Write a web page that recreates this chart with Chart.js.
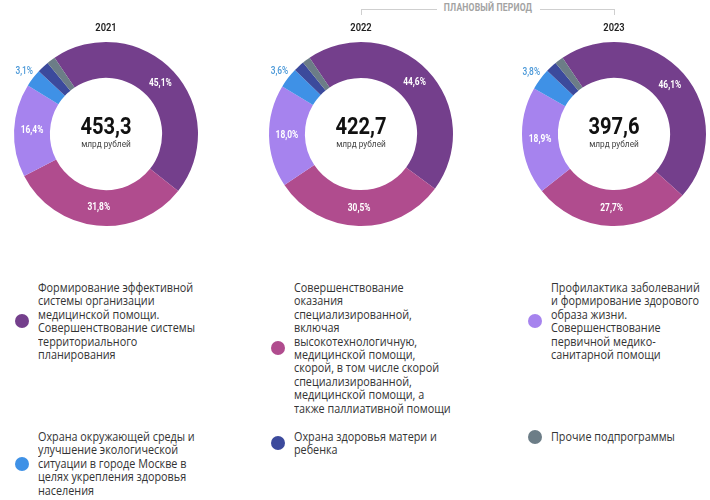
<!DOCTYPE html>
<html lang="ru">
<head>
<meta charset="utf-8">
<title>Подпрограммы здравоохранения</title>
<script src="https://cdn.jsdelivr.net/npm/chart.js@4.4.0/dist/chart.umd.min.js"></script>
<style>
  html, body { margin: 0; padding: 0; background: #fff; }
  body { width: 710px; height: 500px; position: relative; overflow: hidden; font-family: "Open Sans", sans-serif; }
  .donut { position: absolute; top: 0; width: 212px; height: 240px; }
  .period-line { position: absolute; top: 9px; height: 0; border-top: 1px solid #cfcfcf; }
  .period-tick { position: absolute; top: 9px; width: 0; height: 6px; border-left: 1px solid #cfcfcf; }
  .period-text { position: absolute; top: 2px; left: 400px; width: 176px; text-align: center;
    font: bold 10px Roboto, sans-serif; color: #a3a3a3; transform: scaleX(0.86); letter-spacing: 0.2px; }
  .legend-item { position: absolute; display: flex; align-items: center; }
  .legend-dot { width: 14px; height: 14px; border-radius: 50%; flex: none; margin-right: 9px; }
  .legend-text { font-size: 12px; line-height: 13.4px; color: #333; white-space: pre;
    transform: scaleX(0.9); transform-origin: left center; }
</style>
</head>
<body>
<div class="period-line" style="left:361px;width:76px"></div>
<div class="period-line" style="left:540px;width:74px"></div>
<div class="period-tick" style="left:361px"></div>
<div class="period-tick" style="left:614px"></div>
<div class="period-text">ПЛАНОВЫЙ ПЕРИОД</div>

<canvas id="chart2021" class="donut" width="212" height="240" style="left:0px"></canvas>
<canvas id="chart2022" class="donut" width="212" height="240" style="left:255px"></canvas>
<canvas id="chart2023" class="donut" width="212" height="240" style="left:508px"></canvas>

<div id="legend"></div>

<script>
// Data
const years = ["2021", "2022", "2023"];
const totals = [453.3, 422.7, 397.6];  // млрд рублей
const shares2021 = [45.1, 31.8, 16.4, 3.1, 2.1, 1.5];
const shares2022 = [44.6, 30.5, 18.0, 3.6, 1.9, 1.4];
const shares2023 = [46.1, 27.7, 18.9, 3.8, 2.0, 1.5];
const categories = [
    "Формирование эффективной\nсистемы организации\nмедицинской помощи.\nСовершенствование системы\nтерриториального\nпланирования",
    "Совершенствование\nоказания\nспециализированной,\nвключая\nвысокотехнологичную,\nмедицинской помощи,\nскорой, в том числе скорой\nспециализированной,\nмедицинской помощи, а\nтакже паллиативной помощи",
    "Профилактика заболеваний\nи формирование здорового\nобраза жизни.\nСовершенствование\nпервичной медико-\nсанитарной помощи",
    "Охрана окружающей среды и\nулучшение экологической\nситуации в городе Москве в\nцелях укрепления здоровья\nнаселения",
    "Охрана здоровья матери и\nребенка",
    "Прочие подпрограммы"
];

// Styles
const colors = ["#743f8c", "#b04c8e", "#a683ee", "#3f91e6", "#3c4a9c", "#6c7d87"];
const outsideLabelColor = "#4a98d8";
const allShares = [shares2021, shares2022, shares2023];

function fmt(v) {
    return v.toFixed(1).replace(".", ",");
}

// draw text squeezed horizontally, to imitate a condensed face
function drawCondensed(ctx, text, x, y, font, color, scale) {
    ctx.save();
    ctx.font = font;
    ctx.fillStyle = color;
    ctx.textAlign = "center";
    ctx.textBaseline = "middle";
    ctx.translate(x, y);
    ctx.scale(scale, 1);
    ctx.fillText(text, 0, 0);
    ctx.restore();
}

const donutText = {
    id: "donutText",
    afterDatasetsDraw(chart, args, opts) {
        const ctx = chart.ctx;
        const meta = chart.getDatasetMeta(0);
        const first = meta.data[0];
        const cx = first.x, cy = first.y;
        const outer = first.outerRadius, inner = first.innerRadius;

        // year above the ring
        drawCondensed(ctx, opts.year, cx, cy - outer - 14, "600 11px Roboto", "#222", 0.85);

        // total in the hole
        drawCondensed(ctx, fmt(opts.total), cx, cy - 6, "bold 24px Roboto", "#111", 0.84);
        drawCondensed(ctx, "млрд рублей", cx, cy + 11, "9px Roboto", "#444", 0.92);

        // percent labels
        const values = chart.data.datasets[0].data;
        for (let i = 0; i < 4; i++) {
            const arc = meta.data[i];
            const mid = (arc.startAngle + arc.endAngle) / 2;
            let r, color;
            if (i < 3) {
                r = (inner + outer) / 2;
                color = "#fff";
            } else {
                r = outer + 11;
                color = outsideLabelColor;
            }
            const x = cx + Math.cos(mid) * r;
            const y = cy + Math.sin(mid) * r;
            drawCondensed(ctx, fmt(values[i]) + "%", x, y, (i < 3 ? "bold " : "500 ") + "10px Roboto", color, 0.84);
        }
    }
};

years.forEach((year, k) => {
    new Chart(document.getElementById("chart" + year), {
        type: "doughnut",
        data: {
            labels: categories,
            datasets: [{
                data: allShares[k],
                backgroundColor: colors,
                borderWidth: 0,
                hoverOffset: 0
            }]
        },
        options: {
            responsive: false,
            maintainAspectRatio: false,
            animation: false,
            cutout: "61%",
            rotation: -34,
            layout: { padding: { left: 14, right: 14, top: 42, bottom: 14 } },
            plugins: {
                legend: { display: false },
                tooltip: { enabled: false },
                donutText: { year: year, total: totals[k] }
            }
        },
        plugins: [donutText]
    });
});

// HTML legend built from the categories
const legendDotX = [22, 278, 535];
const legendRowTop = [281, 430];
const legend = document.getElementById("legend");
categories.forEach((name, i) => {
    const item = document.createElement("div");
    item.className = "legend-item";
    item.style.left = (legendDotX[i % 3] - 7) + "px";
    item.style.top = legendRowTop[Math.floor(i / 3)] + "px";

    const dot = document.createElement("span");
    dot.className = "legend-dot";
    dot.style.background = colors[i];

    const text = document.createElement("span");
    text.className = "legend-text";
    text.textContent = name;

    item.appendChild(dot);
    item.appendChild(text);
    legend.appendChild(item);
});
</script>
</body>
</html>
